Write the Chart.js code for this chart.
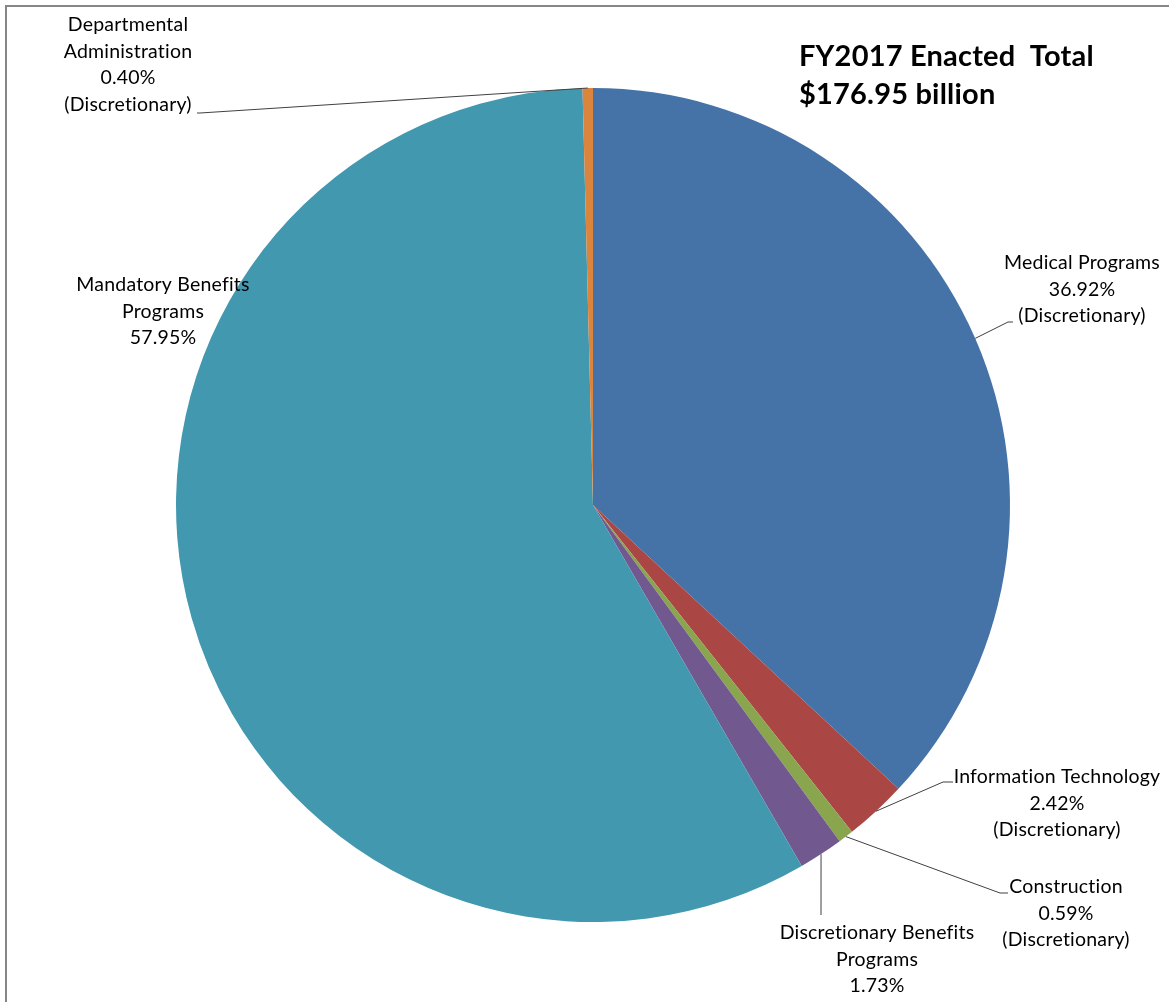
<!DOCTYPE html>
<html>
<head>
<meta charset="utf-8">
<script src="https://cdn.jsdelivr.net/npm/chart.js@4"></script>
<style>
  html, body { margin: 0; padding: 0; background: #fff; }
  #wrap { position: relative; width: 1169px; height: 1002px; }
</style>
</head>
<body>
<div id="wrap"><canvas id="myChart" width="1169" height="1002"></canvas></div>
<script>
// slices, clockwise from 12 o'clock
const categories = ['Medical Programs', 'Information Technology', 'Construction',
  'Discretionary Benefits Programs', 'Mandatory Benefits Programs', 'Departmental Administration'];
const shares = [36.92, 2.42, 0.59, 1.73, 57.95, 0.40];
const colors = ['#4572A7', '#AA4643', '#89A54E', '#71588F', '#4298AF', '#DB843D'];
const labelLines = [
  ['Medical Programs'],
  ['Information Technology'],
  ['Construction'],
  ['Discretionary Benefits', 'Programs'],
  ['Mandatory Benefits', 'Programs'],
  ['Departmental', 'Administration']
];
const discretionary = [true, true, true, false, false, true];
const titleLines = ['FY2017 Enacted  Total', '$176.95 billion'];

// where the label text sits and the bend of each leader line
const labelSpots = [
  { x: 1082, y: 263, bend: [1008, 322], end: [1013, 322] },
  { x: 1057, y: 777, bend: [943, 782], end: [953, 782] },
  { x: 1066, y: 887, bend: [1000, 893], end: [1008, 893] },
  { x: 877, y: 933, bend: [821, 915], end: [821, 915] },
  { x: 163, y: 285, bend: null, end: null },
  { x: 128, y: 25, bend: [200, 113], end: [197, 113] }
];

const labelPlugin = {
  id: 'labels',
  beforeDraw(chart) {
    const ctx = chart.ctx;
    ctx.save();
    ctx.strokeStyle = '#868686';
    ctx.lineWidth = 2;
    ctx.beginPath();
    ctx.moveTo(6, 1002);
    ctx.lineTo(6, 6);
    ctx.lineTo(1169, 6);
    ctx.stroke();
    ctx.restore();
  },
  afterDraw(chart) {
    const ctx = chart.ctx;
    const arcs = chart.getDatasetMeta(0).data;
    ctx.save();
    // leader lines
    ctx.strokeStyle = '#404040';
    ctx.lineWidth = 1;
    arcs.forEach((arc, i) => {
      const s = labelSpots[i];
      if (!s.bend) return;
      const p = arc.getProps(['x', 'y', 'startAngle', 'endAngle', 'outerRadius'], true);
      const a = (p.startAngle + p.endAngle) / 2;
      ctx.beginPath();
      ctx.moveTo(p.x + Math.cos(a) * p.outerRadius, p.y + Math.sin(a) * p.outerRadius);
      ctx.lineTo(s.bend[0], s.bend[1]);
      ctx.lineTo(s.end[0], s.end[1]);
      ctx.stroke();
    });
    // label text
    ctx.fillStyle = '#000';
    ctx.font = '19.5px Lato';
    ctx.letterSpacing = '0.2px'; // also stops the "ti" ligature
    ctx.textAlign = 'center';
    ctx.textBaseline = 'middle';
    shares.forEach((v, i) => {
      const s = labelSpots[i];
      const lines = labelLines[i].concat([v.toFixed(2) + '%']);
      if (discretionary[i]) lines.push('(Discretionary)');
      lines.forEach((t, k) => ctx.fillText(t, s.x, s.y + k * 26.5));
    });
    // title
    ctx.font = 'bold 29px Lato';
    ctx.textAlign = 'left';
    titleLines.forEach((t, k) => ctx.fillText(t, 799, 57 + k * 38));
    ctx.restore();
  }
};

new Chart(document.getElementById('myChart'), {
  type: 'pie',
  data: {
    labels: categories,
    datasets: [{
      data: shares,
      backgroundColor: colors,
      borderWidth: 0
    }]
  },
  options: {
    responsive: false,
    animation: false,
    layout: { padding: { top: 88, bottom: 80, left: 176, right: 159 } },
    plugins: {
      legend: { display: false },
      tooltip: { enabled: false }
    }
  },
  plugins: [labelPlugin]
});
</script>
</body>
</html>
